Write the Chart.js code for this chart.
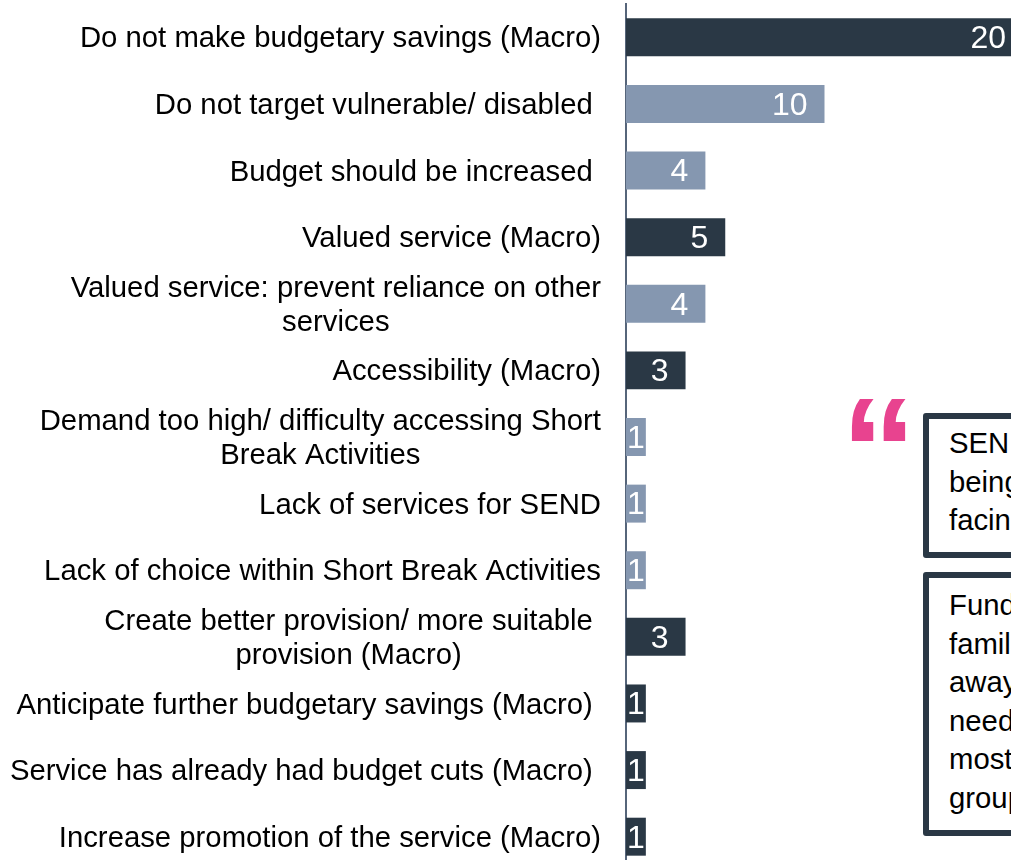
<!DOCTYPE html>
<html>
<head>
<meta charset="utf-8">
<style>
  html, body { margin: 0; padding: 0; background: #fff; }
  #page { position: relative; width: 1011px; height: 860px; overflow: hidden; font-family: "Liberation Sans", Arial, sans-serif; }
  #chart { position: absolute; left: 0; top: 0; }
  .quote { position: absolute; left: 923px; width: 200px; box-sizing: border-box; border: 6px solid #2a3845; border-radius: 3px; padding: 0 0 0 20px; background: #fff; font-size: 29.3px; line-height: 38.6px; color: #000; }
  #q1 { top: 413px; height: 145px; padding-top: 5px; }
  #q2 { top: 572px; height: 264px; padding-top: 8px; }
  #mark { position: absolute; left: 842px; top: 378px; font-size: 135px; line-height: 135px; font-weight: bold; color: #e8438f; transform-origin: 10px 20px; transform: scale(1.125, 1.1); }
</style>
</head>
<body>
<div id="page">
  <canvas id="chart" width="1023" height="870"></canvas>
  <div id="mark">“</div>
  <div class="quote" id="q1">SEN<br>being<br>facing</div>
  <div class="quote" id="q2">Funding<br>families<br>away<br>need<br>most<br>groups</div>
</div>
<script src="https://cdn.jsdelivr.net/npm/chart.js@4/dist/chart.umd.js"></script>
<script>
var categories = [
  ["Do not make budgetary savings (Macro)"],
  ["Do not target vulnerable/ disabled "],
  ["Budget should be increased "],
  ["Valued service (Macro)"],
  ["Valued service: prevent reliance on other", "services"],
  ["Accessibility (Macro)"],
  ["Demand too high/ difficulty accessing Short", "Break Activities"],
  ["Lack of services for SEND"],
  ["Lack of choice within Short Break Activities"],
  ["Create better provision/ more suitable ", "provision (Macro) "],
  ["Anticipate further budgetary savings (Macro) "],
  ["Service has already had budget cuts (Macro) "],
  ["Increase promotion of the service (Macro)"]
];
var values = [20, 10, 4, 5, 4, 3, 1, 1, 1, 3, 1, 1, 1];

var DARK = '#2a3845';
var LIGHT = '#8597b0';

// macro themes are the dark bars
var barColors = categories.map(function(c) {
  return c.join(' ').indexOf('(Macro)') >= 0 ? DARK : LIGHT;
});

// category labels, lines centred inside their own block, block right aligned to the axis
var categoryLabels = {
  id: 'categoryLabels',
  afterDraw: function(chart) {
    var ctx = chart.ctx, y = chart.scales.y;
    var rightEdge = 601, lineH = 33.6;
    ctx.save();
    ctx.font = '29.3px "Liberation Sans", Arial, sans-serif';
    ctx.fillStyle = '#000';
    ctx.textAlign = 'center';
    ctx.textBaseline = 'middle';
    categories.forEach(function(lines, i) {
      var w = Math.max.apply(null, lines.map(function(l) { return ctx.measureText(l).width; }));
      var cy = y.getPixelForValue(i) + 2;
      lines.forEach(function(l, n) {
        ctx.fillText(l, rightEdge - w / 2, cy + (n - (lines.length - 1) / 2) * lineH);
      });
    });
    ctx.restore();
  }
};

// value labels inside the bar end
var valueLabels = {
  id: 'valueLabels',
  afterDatasetsDraw: function(chart) {
    var ctx = chart.ctx, meta = chart.getDatasetMeta(0);
    ctx.save();
    ctx.font = '32px "Liberation Sans", Arial, sans-serif';
    ctx.fillStyle = '#fff';
    ctx.textBaseline = 'middle';
    meta.data.forEach(function(bar, i) {
      if (values[i] == 1) {
        ctx.textAlign = 'center';
        ctx.fillText(values[i], (bar.x + bar.base) / 2, bar.y + 2);
      } else {
        ctx.textAlign = 'right';
        ctx.fillText(values[i], bar.x - 17, bar.y + 2);
      }
    });
    ctx.restore();
  }
};

new Chart(document.getElementById('chart').getContext('2d'), {
  type: 'bar',
  data: {
    labels: categories,
    datasets: [{
      data: values,
      backgroundColor: barColors,
      barPercentage: 0.57,
      categoryPercentage: 1
    }]
  },
  options: {
    indexAxis: 'y',
    responsive: false,
    animation: false,
    layout: { padding: { left: 626, top: 4, right: 0, bottom: 0 } },
    plugins: { legend: { display: false }, tooltip: { enabled: false } },
    scales: {
      x: { display: false, min: 0, max: 20 },
      y: {
        grid: { display: false, drawTicks: false },
        border: { display: true, color: '#56657a', width: 2 },
        ticks: { display: false }
      }
    }
  },
  plugins: [categoryLabels, valueLabels]
});
</script>
</body>
</html>
